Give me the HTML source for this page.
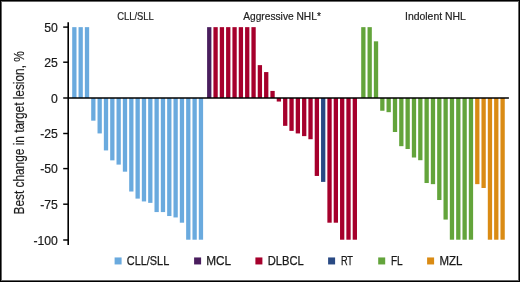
<!DOCTYPE html>
<html><head><meta charset="utf-8"><style>
html,body{margin:0;padding:0;background:#fff;overflow:hidden;width:520px;height:282px;}
#frame{position:relative;width:520px;height:282px;box-sizing:border-box;border:1px solid #000;overflow:hidden;}
#inner{position:absolute;left:0;top:0;right:0;bottom:0;border:1px solid #666;}
svg{position:absolute;left:-1px;top:-1px;will-change:transform;}
text{font-family:"Liberation Sans",sans-serif;}
.lg{stroke:#1a1a1a;stroke-width:0.25;}
.yl{stroke:#1a1a1a;stroke-width:0.2;}
.tk{stroke:#1a1a1a;stroke-width:0.2;}
.tt{stroke:#222;stroke-width:0.2;}
</style></head><body>
<div id="frame"><div id="inner"></div>
<svg width="520" height="282" viewBox="0 0 520 282">
<rect x="72.20" y="27.15" width="4.3" height="70.85" fill="#6aaade"/><rect x="78.53" y="27.15" width="4.3" height="70.85" fill="#6aaade"/><rect x="84.86" y="27.15" width="4.3" height="70.85" fill="#6aaade"/><rect x="91.19" y="98.00" width="4.3" height="22.67" fill="#6aaade"/><rect x="97.52" y="98.00" width="4.3" height="35.43" fill="#6aaade"/><rect x="103.85" y="98.00" width="4.3" height="52.43" fill="#6aaade"/><rect x="110.18" y="98.00" width="4.3" height="62.35" fill="#6aaade"/><rect x="116.51" y="98.00" width="4.3" height="66.60" fill="#6aaade"/><rect x="122.84" y="98.00" width="4.3" height="73.68" fill="#6aaade"/><rect x="129.17" y="98.00" width="4.3" height="93.52" fill="#6aaade"/><rect x="135.50" y="98.00" width="4.3" height="100.61" fill="#6aaade"/><rect x="141.83" y="98.00" width="4.3" height="103.44" fill="#6aaade"/><rect x="148.16" y="98.00" width="4.3" height="104.86" fill="#6aaade"/><rect x="154.49" y="98.00" width="4.3" height="114.07" fill="#6aaade"/><rect x="160.82" y="98.00" width="4.3" height="114.07" fill="#6aaade"/><rect x="167.15" y="98.00" width="4.3" height="118.04" fill="#6aaade"/><rect x="173.48" y="98.00" width="4.3" height="119.45" fill="#6aaade"/><rect x="179.81" y="98.00" width="4.3" height="124.70" fill="#6aaade"/><rect x="186.14" y="98.00" width="4.3" height="141.70" fill="#6aaade"/><rect x="192.47" y="98.00" width="4.3" height="141.70" fill="#6aaade"/><rect x="198.80" y="98.00" width="4.3" height="141.70" fill="#6aaade"/><rect x="207.10" y="27.15" width="4.3" height="70.85" fill="#4a1e5e"/><rect x="213.43" y="27.15" width="4.3" height="70.85" fill="#a6002c"/><rect x="219.76" y="27.15" width="4.3" height="70.85" fill="#a6002c"/><rect x="226.09" y="27.15" width="4.3" height="70.85" fill="#a6002c"/><rect x="232.42" y="27.15" width="4.3" height="70.85" fill="#a6002c"/><rect x="238.75" y="27.15" width="4.3" height="70.85" fill="#a6002c"/><rect x="245.08" y="27.15" width="4.3" height="70.85" fill="#a6002c"/><rect x="251.41" y="27.15" width="4.3" height="70.85" fill="#a6002c"/><rect x="257.74" y="65.13" width="4.3" height="32.87" fill="#a6002c"/><rect x="264.07" y="72.07" width="4.3" height="25.93" fill="#a6002c"/><rect x="270.40" y="90.92" width="4.3" height="7.08" fill="#a6002c"/><rect x="276.73" y="98.00" width="4.3" height="3.54" fill="#a6002c"/><rect x="283.06" y="98.00" width="4.3" height="27.84" fill="#a6002c"/><rect x="289.39" y="98.00" width="4.3" height="32.87" fill="#a6002c"/><rect x="295.72" y="98.00" width="4.3" height="35.43" fill="#a6002c"/><rect x="302.05" y="98.00" width="4.3" height="38.12" fill="#a6002c"/><rect x="308.38" y="98.00" width="4.3" height="41.23" fill="#a6002c"/><rect x="314.71" y="98.00" width="4.3" height="77.94" fill="#a6002c"/><rect x="321.04" y="98.00" width="4.3" height="83.89" fill="#2a4a84"/><rect x="327.37" y="98.00" width="4.3" height="124.70" fill="#a6002c"/><rect x="333.70" y="98.00" width="4.3" height="124.70" fill="#a6002c"/><rect x="340.03" y="98.00" width="4.3" height="141.70" fill="#a6002c"/><rect x="346.36" y="98.00" width="4.3" height="141.70" fill="#a6002c"/><rect x="352.69" y="98.00" width="4.3" height="141.70" fill="#a6002c"/><rect x="361.20" y="27.15" width="4.3" height="70.85" fill="#63a43b"/><rect x="367.53" y="27.15" width="4.3" height="70.85" fill="#63a43b"/><rect x="373.86" y="41.32" width="4.3" height="56.68" fill="#63a43b"/><rect x="380.19" y="98.00" width="4.3" height="12.75" fill="#63a43b"/><rect x="386.52" y="98.00" width="4.3" height="14.17" fill="#63a43b"/><rect x="392.85" y="98.00" width="4.3" height="34.01" fill="#63a43b"/><rect x="399.18" y="98.00" width="4.3" height="48.18" fill="#63a43b"/><rect x="405.51" y="98.00" width="4.3" height="51.01" fill="#63a43b"/><rect x="411.84" y="98.00" width="4.3" height="59.51" fill="#63a43b"/><rect x="418.17" y="98.00" width="4.3" height="62.21" fill="#63a43b"/><rect x="424.50" y="98.00" width="4.3" height="85.02" fill="#63a43b"/><rect x="430.83" y="98.00" width="4.3" height="86.15" fill="#63a43b"/><rect x="437.16" y="98.00" width="4.3" height="102.02" fill="#63a43b"/><rect x="443.49" y="98.00" width="4.3" height="121.58" fill="#63a43b"/><rect x="449.82" y="98.00" width="4.3" height="141.70" fill="#63a43b"/><rect x="456.15" y="98.00" width="4.3" height="141.70" fill="#63a43b"/><rect x="462.48" y="98.00" width="4.3" height="141.70" fill="#63a43b"/><rect x="468.81" y="98.00" width="4.3" height="141.70" fill="#63a43b"/><rect x="475.14" y="98.00" width="4.3" height="86.15" fill="#da8b14"/><rect x="481.47" y="98.00" width="4.3" height="89.98" fill="#da8b14"/><rect x="487.80" y="98.00" width="4.3" height="141.70" fill="#da8b14"/><rect x="494.13" y="98.00" width="4.3" height="141.70" fill="#da8b14"/><rect x="500.46" y="98.00" width="4.3" height="141.70" fill="#da8b14"/>
<line x1="68.2" y1="22.2" x2="68.2" y2="245.0" stroke="#000" stroke-width="1.6"/>
<line x1="68.2" y1="98.0" x2="508.9" y2="98.0" stroke="#000" stroke-width="1.7"/>
<line x1="63.2" y1="27.10" x2="68.2" y2="27.10" stroke="#000" stroke-width="1.45"/><text class="tk" x="44.31" y="31.70" font-size="12.8" fill="#1a1a1a" textLength="13.59" lengthAdjust="spacingAndGlyphs">50</text><line x1="63.2" y1="62.20" x2="68.2" y2="62.20" stroke="#000" stroke-width="1.45"/><text class="tk" x="44.31" y="66.80" font-size="12.8" fill="#1a1a1a" textLength="13.59" lengthAdjust="spacingAndGlyphs">25</text><line x1="63.2" y1="98.00" x2="68.2" y2="98.00" stroke="#000" stroke-width="1.45"/><text class="tk" x="51.10" y="102.60" font-size="12.8" fill="#1a1a1a" textLength="6.80" lengthAdjust="spacingAndGlyphs">0</text><line x1="63.2" y1="133.50" x2="68.2" y2="133.50" stroke="#000" stroke-width="1.45"/><text class="tk" x="40.24" y="138.10" font-size="12.8" fill="#1a1a1a" textLength="17.66" lengthAdjust="spacingAndGlyphs">-25</text><line x1="63.2" y1="168.60" x2="68.2" y2="168.60" stroke="#000" stroke-width="1.45"/><text class="tk" x="40.24" y="173.20" font-size="12.8" fill="#1a1a1a" textLength="17.66" lengthAdjust="spacingAndGlyphs">-50</text><line x1="63.2" y1="204.20" x2="68.2" y2="204.20" stroke="#000" stroke-width="1.45"/><text class="tk" x="40.24" y="208.80" font-size="12.8" fill="#1a1a1a" textLength="17.66" lengthAdjust="spacingAndGlyphs">-75</text><line x1="63.2" y1="240.00" x2="68.2" y2="240.00" stroke="#000" stroke-width="1.45"/><text class="tk" x="33.44" y="244.60" font-size="12.8" fill="#1a1a1a" textLength="24.46" lengthAdjust="spacingAndGlyphs">-100</text>
<text class="tt" x="117.15" y="19.8" font-size="10.5" fill="#222" textLength="36.7" lengthAdjust="spacingAndGlyphs">CLL/SLL</text><text class="tt" x="243.2" y="19.8" font-size="10.5" fill="#222" textLength="77.7" lengthAdjust="spacingAndGlyphs">Aggressive NHL*</text><text class="tt" x="405.0" y="19.8" font-size="10.5" fill="#222" textLength="60.8" lengthAdjust="spacingAndGlyphs">Indolent NHL</text>
<text class="yl" transform="translate(23.8,214.5) rotate(-90)" font-size="14.5" fill="#1a1a1a" textLength="163.3" lengthAdjust="spacingAndGlyphs">Best change in target lesion, %</text>
<rect x="114.6" y="257.45" width="7.0" height="7.0" fill="#6aaade"/><text class="lg" x="126.8" y="264.5" font-size="12" fill="#1a1a1a" textLength="42.4" lengthAdjust="spacingAndGlyphs">CLL/SLL</text><rect x="194.1" y="257.45" width="7.0" height="7.0" fill="#4a1e5e"/><text class="lg" x="206.2" y="264.5" font-size="12" fill="#1a1a1a" textLength="24.9" lengthAdjust="spacingAndGlyphs">MCL</text><rect x="255.4" y="257.45" width="7.0" height="7.0" fill="#a6002c"/><text class="lg" x="267.8" y="264.5" font-size="12" fill="#1a1a1a" textLength="36.0" lengthAdjust="spacingAndGlyphs">DLBCL</text><rect x="328.1" y="257.45" width="7.0" height="7.0" fill="#2a4a84"/><text class="lg" x="340.9" y="264.5" font-size="12" fill="#1a1a1a" textLength="12.1" lengthAdjust="spacingAndGlyphs">RT</text><rect x="378.2" y="257.45" width="7.0" height="7.0" fill="#63a43b"/><text class="lg" x="390.9" y="264.5" font-size="12" fill="#1a1a1a" textLength="11.8" lengthAdjust="spacingAndGlyphs">FL</text><rect x="427.1" y="257.45" width="7.0" height="7.0" fill="#da8b14"/><text class="lg" x="439.5" y="264.5" font-size="12" fill="#1a1a1a" textLength="22.9" lengthAdjust="spacingAndGlyphs">MZL</text>
</svg></div>
</body></html>
